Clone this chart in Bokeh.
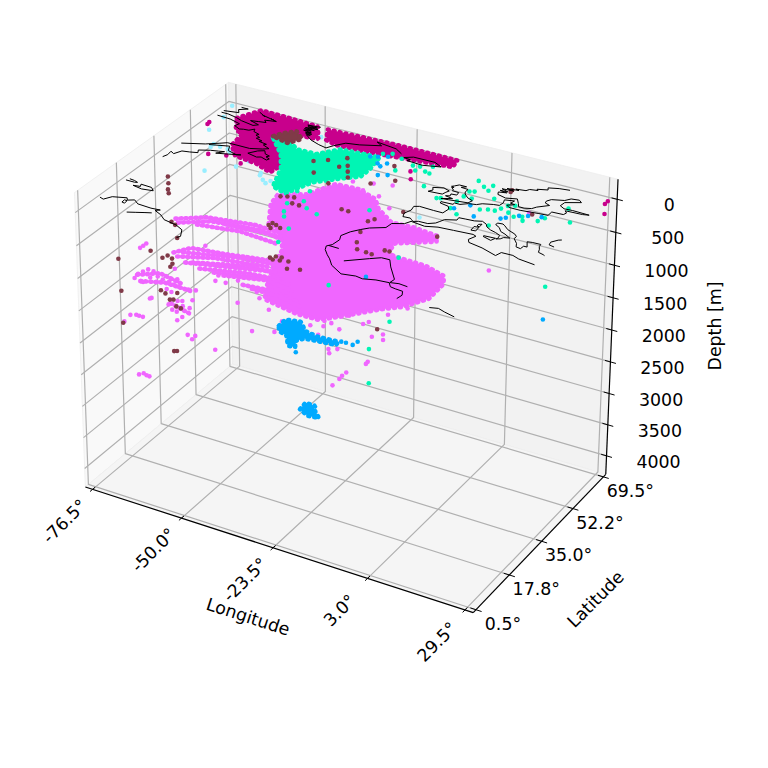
import numpy as np
from bokeh.plotting import figure
from bokeh.models import Range1d, ColumnDataSource
from bokeh.core.properties import value
from bokeh.embed import file_html
from bokeh.resources import INLINE

# ---------- axes ----------
lon_ticks = [-76.5, -50.0, -23.5, 3.0, 29.5]
lon_labels = ["-76.5°", "-50.0°", "-23.5°", "3.0°", "29.5°"]
lat_ticks = [0.5, 17.75, 35.0, 52.25, 69.5]
lat_labels = ["0.5°", "17.8°", "35.0°", "52.2°", "69.5°"]
depth_ticks = [0, 500, 1000, 1500, 2000, 2500, 3000, 3500, 4000]
depth_labels = [str(d) for d in depth_ticks]
LON0, LON1 = -78.7, 31.7
LAT0, LAT1 = -0.9, 70.9
DEP0, DEP1 = -300.0, 4300.0

# ---------- dense regions: (lon, lat, depth) ----------
pink_mass = [(-52.8,47.2,1000),
 (-57.9,56.8,1000),(-59.1,62.5,1000),(-52.7,66.2,1000),(-40.3,59.4,500),(-34,59.8,500),(-27.7,57.2,500),
 (-24.4,52.9,500),(-26.5,63.4,1000),(-20.2,63.8,1000),(-13.2,62.8,1000),(-11.8,60,1000),(-20.3,54,1000),
 (-19.3,48.5,1000),(-15.9,47.9,1000),(-8.1,47.5,1000),(-1.7,45.1,1000),(0.1,41.3,1000),(0.5,33.2,1000),
 (-3.2,26.3,1000),(-6.9,22.9,1000),(-13.5,14.9,1000),(-17.3,10.8,1000),(-23.5,10.7,1000),(-33.7,13.1,1000),
 (-36.7,19.3,1000),(-40.1,27.8,1000),(-42.9,37.3,1000),(-48.4,45.4,1000)]
pink_tracks = [
 [(-74.7,37.9,1000),(-68.2,42.5,1000),(-55.2,45.1,1000),(-46.9,44.3,1000)],
 [(-73,36.4,1000),(-66.1,41.2,1000),(-52.8,43.4,1000),(-45.3,41.5,1000)],
 [(-68.3,37.9,1000),(-57.1,40.2,1000),(-45.3,39.1,1000)],
 [(-62.1,41.6,1000),(-46.1,42.9,1000)],
 [(-65.5,22.3,1000),(-63,26.5,1000),(-54.2,28,1000),(-40.7,31.2,1000)],
 [(-63.5,23.6,1000),(-50,28.1,1000),(-39.2,29.6,1000)],
 [(-63.6,21,1000),(-55.1,24.9,1000),(-41.4,27.6,1000)],
 [(-58.7,20.2,1000),(-45.8,25.6,1000),(-36.2,25.8,1000)],
 [(-60.2,19.3,1000),(-47.3,23.4,1000),(-38,26.5,1000)],
 [(-55.5,18.4,1000),(-44,22.3,1000),(-34.9,23.5,1000)],
 [(-51.4,18.4,1000),(-40.4,22,1000),(-31.5,22.4,1000)],
 [(-48.5,18.3,1000),(-38,21.6,1000),(-30.2,20.1,1000)],
 [(-42,16.6,1000),(-34.3,17.6,1000),(-26.6,16.1,1000)],
 [(-39,16,1000),(-30.7,16.1,1000),(-24,14,1000)],
 [(-67.1,8,1000),(-62.6,11.5,1000),(-55.5,9.7,1000)],
 [(-64.6,5.7,1000),(-59.1,8,1000),(-50.7,7.6,1000)],
 [(-61.2,13.8,1500),(-54.5,11.7,1500)]]
green_mass = [(-61.8,64.7,200),(-58,65.6,200),(-53.1,62,200),(-47.5,62.1,200),(-43.6,67.4,200),(-32.8,68.4,200),
 (-31.7,61.6,200),(-31.7,56.7,200),(-35.4,53.4,200),(-40.6,47.9,200),(-43.3,39.5,200),(-47.9,41.2,200),(-51.1,50.6,200),(-55.3,57.6,200)]
magenta_mass = [(-71.8,63.5,0),(-68.6,70.5,0),(-60.2,70.2,0),(-51.3,69.5,0),(-47.7,63.4,0),(-53.4,62.6,0),
 (-57.6,57.7,0),(-52.9,54.1,0),(-48,47.5,0),(-48.8,41.3,0),(-54.2,43.8,0),(-61,44.9,0),(-64.9,49.6,0),
 (-65.7,56.2,0),(-68.6,57.7,0)]
magenta_strip = [(-48.3,69.3,0),(-29.7,70.3,0),(-11.7,70.2,0),(-11,66.4,0),(-23.5,64.5,0),(-34.8,63.1,0),
 (-42.2,62.7,0),(-45.7,63.9,0)]
brown_patch = [(-58.4,59.1,0),(-57.2,61.7,0),(-54.6,64.5,0),(-51.3,61.3,0),(-53.3,57.6,0)]
blue_mass_a = [(-48.8,45.1,2500),(-49,48.8,2500),(-45.1,49.8,2500),(-41.6,46.2,2500),(-37.7,45.3,2500),
 (-31.7,45.7,2500),(-31.4,44,2500),(-35.7,43.4,2500),(-39.9,42.8,2500),(-41.2,40.8,2500),(-39.8,37.9,2500),
 (-41.6,37.5,2500),(-44.7,41.9,2500),(-47.4,42.8,2500)]
blue_mass_b = [(-38.8,38.5,3500),(-39.2,42,3500),(-36.3,41.9,3500),(-35.7,40.3,3500),(-32.5,37.2,3500),(-35.5,36.7,3500)]

# ---------- single points: (lon, lat, depth) ----------
pink_dots = [(-73.9,21.5,1000),(-73.9,22.9,1000),(-74,20.2,1000),(-60.5,29.3,1000),(-67.1,8.5,1000),(-66.7,10.1,1000),
 (-66.2,11.7,1000),(-64.5,11.5,1000),(-62.2,9.8,1000),(-60.3,9.1,1000),(-64.6,5.7,1000),(-63.8,5.6,1000),
 (-63.5,8.4,1000),(-61,7.4,1000),(-66.7,6.3,1000),(-57.7,-0.1,1000),(-66.9,13.2,1500),(-60.7,15.3,1000),
 (-58.4,9,1000),(-57.3,11,1000),(-56.6,8.3,1000),(-56.9,5.5,1000),(-55.1,8,1000),(-55.1,4.8,1000),(-52.2,7.9,1000),
 (-50.4,8.5,1000),(-48.5,3.9,1000),(-60.3,15.6,1500),(-59.3,16.2,1500),(-59.1,11.2,1500),(-57.6,10.9,1500),
 (-57.8,14,1500),(-61.3,13,1500),(-55.8,14,1500),(-55.2,7.3,1500),(-55,9.3,1500),(-66.6,3.8,1500),(-65.4,4.6,1500),
 (-64.5,4.5,1500),(-63.4,4.5,1500),(-66.1,0.3,1500),(-57.8,16,2000),(-55.7,14.7,2000),(-55.9,16.5,2000),(-48,13.1,2000),
 (-75,19.6,3000),(-74.3,20.7,3000),(-73.1,20.2,3000),(-72.2,20.1,3000),(-48.8,15,1000),(-49.6,17.7,1000),(-46.1,15.4,1000),
 (-44.1,17.9,1000),(-38.4,8.3,1000),(-37.2,15.3,1000),(-35,12.9,1000),(-30.1,9.1,1000),(-36.6,11.9,1500),(-31.7,14.3,1500),
 (-32.8,19.8,1500),(-25.8,21.5,1500),(-21.8,18.4,1500),(-23.9,25.1,1500),(-22.8,22.7,1500),(-21.9,25,1500),(-18.7,23.3,1500),
 (-20,30.4,1500),(-15,28.5,1500),(-14.3,30.1,1500),(-10.1,24.1,1500),(-8.3,26.4,1500),(-7,24.1,1500),(-15.1,37.5,1500),
 (-12,35.6,1500),(-9.4,40.8,1500),(-12.7,26.8,2000),(-12.6,25.7,2000),(-24.1,27.4,2000),(-22.9,25.7,2000),(-22.2,28.5,2000),
 (-22.4,33.3,2500),(-22.5,31.4,2500),(-22.3,29.7,2500),(-22.2,26.1,2500),(-32,53.4,200),(-27.5,50.5,200),(-27,55,200),
 (-22.4,56.4,200),(-22.5,49.6,200),(-17.2,45.3,200),(6.4,53.1,1000),(16.5,53.8,0)]
green_dots = [(-1.9,62.9,0),(0.7,60.7,0),(2.4,62.3,0),(2.6,59.4,0),(5.8,56.3,0),(-1.2,56.7,0),(-0.1,57.3,0),(-12.2,53.7,0),
 (-6.5,49.6,0),(-5.6,50.1,0),(-1.2,53.7,0),(1,53.7,0),(-1.1,46.6,0),(1.7,44.5,0),(5.4,49.5,0),(7.1,50.5,0),(8.8,50.8,0),
 (9.6,52.5,0),(10.4,54.6,0),(11.9,55.5,0),(12.1,51.5,0),(14.2,50.2,0),(16,51.2,0),(17,49.4,0),(20.2,51.1,0),(21,53.3,0),
 (27.2,54.3,0),(23.7,60.6,0),(11.1,43.2,0),(-1.4,50.6,0),(-19.9,62.2,0),(-18.1,62.6,0),(-18.1,60.1,0),(-15.7,60.8,0),
 (-14.3,60.4,0),(-15.3,64.1,0),(-20.9,42,200),(-2.2,18.5,1000),(22,52.6,1000),(-15.9,47.9,1000),(-15.5,32.4,2000),
 (-15,31.5,2500),(-23.8,27,1000),(-48.3,42.8,200),(-41.3,41.9,200),(-38.6,43.5,200),(-37.2,38.1,200),(-34.7,35.2,200),
 (-40.2,35.1,200),(-38.7,31,200),(-37.3,28.7,200),(-31,33.7,200),(-33.1,23.8,200),(-31.8,16.6,200),
 (-36.9,68,200),(-33.4,66.9,200),(-29.5,64.2,0),(-27.4,65.4,0),(-34,64.7,200),(-37,64.9,200),(-34.2,57.2,200),(-33,59.1,200),
 (-22.4,57.7,0),(-24.1,64.1,0)]
blue_dots = [(-31.5,61.3,0),(-29.8,62.2,0),(-28.1,58.9,0),(-26.7,57.8,0),(-27.6,63.4,0),(-26,60,0),(-24.9,53.3,0),(-22.8,54.5,0),
 (-0.3,47,0),(2.4,50.3,0),(5.8,45.6,0),(11.9,47.8,0),(12.8,48.8,0),(15.1,51.3,0),(17,52.3,0),(20.1,53.4,0),(21.7,52.5,1500),
 (-18,35.2,1000),(-38.3,35.7,2500),(-31.1,46.1,2500),(-29.8,46.2,2500),(-27.8,46.1,2500),(-27.5,48.1,2500)]
cyan_dots = [(-76.6,69.1,0),(-75,62.3,0),(-74.4,54.2,0),(-63.3,34,0),(-46.7,35.7,0),(-50.1,38.7,0),(-57.7,39.8,0),(-64.6,47.2,0),
 (-68.9,46,0),(-48.7,64.1,0),(-8.5,44.7,200),(-12.8,28,1000),(-9.4,21.5,1000),(-70.7,61.6,0),(-63.2,48.2,0),(-66.9,47.3,0),
 (-69.1,47.8,0),(-63.4,46.1,0),(-56.5,43.9,0),(-50.5,39.8,0),(-48.2,36.9,0),(-46.2,37.3,0),(-49.3,63.7,0),(-47.6,64.7,0)]
magenta_dots = [(-76.7,58,0),(-76.5,56.8,0),(-67.4,42.4,0),(-63,43.9,0),(-57.6,41.9,0),(-18.9,59.1,0),(-16.8,55.4,0),
 (30.2,68.8,0),(30.2,67.2,0),(30.2,67.2,150)]
brown_dots = [(-52.5,46.7,1000),(-50.9,47.7,1000),(-49.2,46.8,1000),(-51.3,45.6,1000),(-52.2,48.1,1000),(-43.4,32,1000),
 (-42.4,33.2,1000),(-40.9,33.5,1000),(-38.4,32.5,1000),(-42.3,31.5,1000),(-40.5,31.9,1000),(-74.7,36,1000),(-73,35,1000),
 (-68.8,29.3,1000),(-70.9,20.2,1000),(-75.6,12.7,1000),(-75.2,13,1500),(-75,13.1,2000),(-65,20.8,2500),(-64.4,21.2,2500),
 (-66.4,18.6,1000),(-65.9,20.2,1000),(-64.1,19.4,1000),(-62.6,17.2,1000),(-62.2,15.6,1000),(-57.8,4.3,1000),(-56,3.5,1000),
 (-53.4,1.4,1000),(-52.7,1.9,1000),(-59.1,13.1,1500),(-57.6,12.8,1500),(-53.6,5.1,1000),(-30.7,55,1000),(-28.8,49.8,1000),
 (-26.9,46.6,1000),(-20.7,49.5,1000),(-19.4,49.6,1000),(-24.2,46.3,1000),(-22.5,46.1,1000),(-31,62.8,1000),(-31.9,61,1000),
 (-38.9,63.3,1000),(-40.9,63.4,1000),(-18.3,54.5,500),(-12.9,62.4,1000),(-3,13.9,1000),(-36.8,29.1,1000),(-33.8,30.3,1000),
 (-46.2,58.4,200),(-43.3,60.7,200),(-39.6,64,200),(-42.9,52.8,200),(-36.8,49.5,200),(-37.4,60.3,200),(-35.8,57.5,200),
 (-34.2,54.7,200),(-39,58.8,200),(-27.7,54.7,200),(-23.1,59,200),(-27.2,66,200),(-42,38.3,200),(-43.5,37.5,200),(-40.3,38.7,200),
 (-39.1,35.7,200),(-37.1,35.6,200),(-73.4,32.8,200),(-71.3,29.7,200),(-69.6,26.8,200),(-68.3,25.1,200),
 (7.5,62.5,0),(7.6,61.5,0),(17.5,53.5,0)]

# ---------- coastlines at depth 0: (lon, lat) ----------
south_america = [(-78,9),(-76.7,8.5),(-75.5,10.7),(-72,12),(-71.3,11),(-69.8,12),(-68,10.6),(-64,10.3),(-61.5,10.6),(-62.5,9.8),(-60,8.5),(-58,6.8),(-54,5.9),(-51.5,4.5),(-50,1.5),(-50.5,0.5)]
maracaibo = [(-72,10.8),(-71.9,9.5),(-71,9.3),(-71.2,10.7),(-72,10.8)]
orinoco = [(-68,5.6),(-66,6.6),(-64,7.6),(-62.5,8.3)]
cuba = [(-77.5,20),(-75,20),(-74.3,20.3),(-75.5,20.8),(-77,21)]
hispaniola = [(-74.4,18.4),(-71.5,17.8),(-68.5,18.4),(-69.8,19.7),(-73,19.9),(-72.5,18.8),(-74.4,18.4)]
us_east = [(-76.5,35.4),(-76,37),(-76.3,39),(-75,38.2),(-74,40.5),(-72,41),(-70,41.7),(-70.7,43),(-68,44.4),(-66,45),(-64.5,45.5),(-66,43.7),(-63.5,44.6),(-60,46),(-61,45.5),(-64,46.5),(-65,48.8),(-70,47)]
st_lawrence = [(-76.5,44.2),(-71,46.8),(-68,49),(-66.5,50.2),(-60,50.2),(-57,51.5),(-55.7,52.5),(-58,53.6),(-57.5,54.3),(-60,54.8),(-59.5,55.4),(-61.5,56),(-61,56.8),(-62.5,57.5),(-62,58.2),(-64,59),(-64.5,60.3),(-65.5,59),(-67,58.8),(-68,58.4),(-70,59.5),(-69.5,61),(-73,62.2),(-77,62.5)]
baffin = [(-77,64.5),(-75,64.5),(-72,63.7),(-70,62.8),(-66,61.9),(-65,62.9),(-68,64),(-66,64.5),(-64,65),(-65,66),(-62,66.8),(-64,67.5),(-62.5,67),(-67,68.3),(-66,67.8),(-68.5,69.4)]
foxe = [(-77,65.6),(-73,66.5),(-74,68),(-72,69.5),(-74,69.5)]
newfoundland = [(-59,47.7),(-56,46.9),(-55,47.5),(-53,46.7),(-52.7,47.6),(-54,48.2),(-53.5,49),(-55,49.5),(-56,51),(-57.5,50),(-59,47.7)]
greenland = [(-50.5,69.5),(-54,69),(-51,68.7),(-53.5,68.2),(-50.5,68),(-53.8,67.5),(-51,67.1),(-53.7,66.8),(-51.5,66.4),(-53.5,66),(-51,65.6),(-52.5,65.2),(-50.5,64.9),(-52,64.5),(-50.5,64.2),(-51.5,64),(-49,62),(-46,60.7),(-43.5,60),(-42.5,62),(-40.5,64.8),(-37,65.7),(-32,68),(-34,69.3),(-28,68.3),(-25.5,66.5)]
iceland = [(-24,65),(-22,66.4),(-16,66.5),(-13.5,65),(-18,63.5),(-22.5,63.9),(-22,64.7),(-24,65)]
europe_atlantic_med = [(8.5,53.8),(7,53.5),(4.5,52.5),(3.5,51.4),(1.6,50.9),(0,49.5),(-1.5,49.5),(-1.5,48.7),(-4.7,48.5),(-4.5,47.8),(-2,47.2),(-1.2,46),(-1.5,43.5),(-4,43.5),(-8,43.7),(-9.2,43),(-8.8,41),(-9.5,38.7),(-8.9,37),(-7,37.2),(-6.3,36.6),(-5.6,36),(-4.5,36.7),(-2,36.8),(-0.5,38),(0,39.2),(0.5,40.6),(3.2,41.9),(3,43.2),(4.8,43.4),(7,43.6),(8.8,44.4),(10.3,43.5),(11,42.4),(12.5,41.4),(14.2,40.8),(15.7,40),(16,38.3),(15.7,38),(16.6,38.5),(17,39.5),(18.4,40),(16.5,41.2),(15,41.9),(13.8,43.5),(12.3,44.5),(12.4,45.4),(13.7,45.6),(14.5,45),(16,43.6),(18.5,42.4),(19.4,41.5),(19.4,40.3),(21,38.4),(21.7,36.8),(23,36.5),(23.1,38),(24,38),(22.8,40.4),(24,40.7),(26.2,40.8),(26.4,39.6),(27,38.5),(27.5,37),(29,36.5),(29.5,36.2)]
sicily = [(12.5,38),(15.5,38.2),(15,36.7),(12.5,37.6),(12.5,38)]
sardinia = [(8.3,41),(9.5,41.2),(9.7,39.2),(8.5,39),(8.3,41)]
corsica = [(8.7,42.5),(9.4,43),(9.5,41.5),(8.8,41.6),(8.7,42.5)]
africa_north = [(-6,35.8),(-2,35.2),(1,36.4),(5,36.8),(10,37.3),(11,36.8),(10.2,34.5),(11,33.2),(15,32.3),(19.5,30.5),(20,32.5),(23,32.6),(25,31.7),(29.5,31)]
africa_west = [(-6,35.8),(-6.8,34),(-9.5,32.5),(-9.7,30),(-13,27.8),(-14.5,26),(-16,23.8),(-17,21),(-16.2,19),(-16.5,16),(-17.4,14.7),(-16.7,13),(-15,11),(-13.5,9.5),(-11.5,7),(-7.5,4.4),(-4,5.2),(-2,4.8),(1,5.9),(4.3,6.3),(5.5,4.7),(7,4.4),(9,4.2),(9.8,2.5),(9.5,0.5)]
senegal = [(-17,15.2),(-14.2,15.1)]
niger = [(-10.1,10.3),(-5.4,14.3),(-3.2,16.1),(-1,16.2),(0.9,13.2),(4.6,8.3),(4.4,6.4)]
benue = [(4.4,6.4),(6.5,7),(8.9,6.7)]
congo = [(18,0.5),(20,1.2),(22,0.4),(25,-0.5)]
uk = [(-5.5,50),(-3.5,50.3),(1.3,51.2),(1.7,52.7),(0,53.5),(-1.5,55),(-2,56),(-2,57.5),(-4,57.7),(-3,58.6),(-5,58.6),(-5.8,57.5),(-6.3,57),(-5.5,56.8),(-6,56.5),(-5,55.5),(-5,55),(-3.2,54.9),(-3,53.5),(-4.5,53.3),(-4.2,52.3),(-5.2,51.8),(-3,51.3),(-5.5,50)]
ireland = [(-10,51.8),(-6.3,52.2),(-6,53.5),(-5.6,54.5),(-7.5,55.3),(-10,54.2),(-9.3,53),(-10,51.8)]
scandinavia = [(8.5,53.8),(8.7,55.5),(8.2,57),(10.6,57.7),(10.3,56.2),(11.5,56),(10,54.8),(11,54),(14,54),(18.5,54.7),(21,55),(21,57),(24,57.2),(24.3,58.3),(23.5,59.2),(28,59.5),(29.5,60),(25,60.2),(22.8,60),(21.3,61),(21.5,63),(25,65),(24,65.9),(22,65.5),(21,64),(18,62.8),(17.3,61.5),(17.5,60.5),(19,59.8),(16.7,57.5),(16,56.2),(14.3,55.5),(12.8,55.5),(12,57),(10.7,59),(8,58),(5.5,58.8),(5,60),(7,60.6),(5,61),(7,61.2),(5,62),(8,62.3),(6,62.7),(9,63.2),(8,63.5),(10.5,64),(11,65),(13,65.5),(12.5,66),(15,67),(14.5,68),(17,69),(19.7,69.5)]
black_sea = [(29.5,41.2),(28,41.6),(27.7,43),(28.8,44.8),(29.5,45.3)]
coasts = [south_america, maracaibo, orinoco, cuba, hispaniola, us_east, st_lawrence, baffin, foxe, newfoundland,
          greenland, iceland, europe_atlantic_med, sicily, sardinia, corsica, africa_north, africa_west, senegal,
          niger, benue, congo, uk, ireland, scandinavia, black_sea]

# ---------- colours ----------
PINK, GREEN, MAGENTA, BLUE, CYAN, BROWN = "#f066ff", "#00f5b4", "#c8008c", "#00aaff", "#99eeff", "#803a48"
GRID = "#b0b0b0"
FONT = value("DejaVu Sans")

# ---------- camera fitted to the drawn box ----------
box_index = [(0,0,0),(1,0,0),(1,1,0),(0,1,0),(0,0,1),(0,1,1),(1,1,1),(1,0,1)]
box_view = [(85,487),(473,612),(605,474),(232,363),(74,192),(228,82),(618,179),(479,303)]
rows, rhs = [], []
for (X, Y, Z), (px, py) in zip(box_index, box_view):
    rows.append([X, Y, Z, 1, 0, 0, 0, 0, -px*X, -px*Y, -px*Z]); rhs.append(px)
    rows.append([0, 0, 0, 0, X, Y, Z, 1, -py*X, -py*Y, -py*Z]); rhs.append(py)
sol = np.linalg.lstsq(np.array(rows, float), np.array(rhs, float), rcond=None)[0]
CAM = np.append(sol, 1.0).reshape(3, 4)

def project(lon, lat, dep):
    lon, lat, dep = (np.asarray(a, float) for a in np.broadcast_arrays(lon, lat, dep))
    X = (lon - LON0)/(LON1 - LON0)
    Y = (lat - LAT0)/(LAT1 - LAT0)
    Z = (DEP1 - dep)/(DEP1 - DEP0)
    H = CAM @ np.vstack([X, Y, Z, np.ones_like(X)])
    return H[0]/H[2], H[1]/H[2]

def proj3(triples):
    a = np.array(triples, float)
    return project(a[:, 0], a[:, 1], a[:, 2])

# ---------- figure ----------
p = figure(width=752, height=752, x_range=Range1d(0, 752), y_range=Range1d(752, 0),
           output_backend="svg", toolbar_location=None, min_border=0)
p.axis.visible = False
p.grid.visible = False
p.outline_line_color = None

def pane(lons, lats, deps, col):
    x, y = project(lons, lats, deps)
    p.patch(x, y, fill_color=col, line_color="#eeeeee", line_width=0.8)

pane([LON0, LON0, LON0, LON0], [LAT0, LAT1, LAT1, LAT0], [DEP1, DEP1, DEP0, DEP0], "#f9f9f9")
pane([LON0, LON1, LON1, LON0], [LAT1, LAT1, LAT1, LAT1], [DEP1, DEP1, DEP0, DEP0], "#f2f2f2")
pane([LON0, LON1, LON1, LON0], [LAT0, LAT0, LAT1, LAT1], [DEP1, DEP1, DEP1, DEP1], "#f5f5f5")

# grid lines
gx, gy = [], []
for t in lon_ticks:
    x, y = project([t, t, t], [LAT0, LAT1, LAT1], [DEP1, DEP1, DEP0]); gx.append(x); gy.append(y)
for t in lat_ticks:
    x, y = project([LON1, LON0, LON0], [t, t, t], [DEP1, DEP1, DEP0]); gx.append(x); gy.append(y)
for t in depth_ticks:
    x, y = project([LON1, LON0, LON0], [LAT1, LAT1, LAT0], [t, t, t]); gx.append(x); gy.append(y)
p.multi_line(gx, gy, line_color=GRID, line_width=1.2)

# dense regions and dots
DOT = 4.6
def beads(x, y, col, dash="1 5"):
    p.line(x, y, line_color=col, line_width=DOT, line_dash=dash, line_cap="round")
def mass(tr, col):
    x, y = proj3(tr)
    p.patch(x, y, fill_color=col, line_color=None)
    beads(np.append(x, x[0]), np.append(y, y[0]), col)
def dots(tr, col):
    x, y = proj3(tr)
    p.scatter(x, y, size=DOT, fill_color=col, line_color=None)

dots(cyan_dots, CYAN)
mass(magenta_mass, MAGENTA)
mass(magenta_strip, MAGENTA)
dots(magenta_dots, MAGENTA)
mass(pink_mass, PINK)
for tr in pink_tracks:
    beads(*proj3(tr), PINK, "1 4")
dots(pink_dots, PINK)
mass(green_mass, GREEN)
dots(green_dots, GREEN)
mass(blue_mass_a, BLUE)
mass(blue_mass_b, BLUE)
dots(blue_dots, BLUE)
mass(brown_patch, BROWN)
dots(brown_dots, BROWN)

# coast at depth 0
cx, cy = [], []
for c in coasts:
    a = np.array(c, float)
    x, y = project(a[:, 0], a[:, 1], 0.0)
    cx.append(x); cy.append(y)
p.multi_line(cx, cy, line_color="black", line_width=1.0)

# axis lines
ax_x, ax_y = [], []
x, y = project([LON0, LON1], [LAT0, LAT0], [DEP1, DEP1]); ax_x.append(x); ax_y.append(y)
x, y = project([LON1, LON1], [LAT0, LAT1], [DEP1, DEP1]); ax_x.append(x); ax_y.append(y)
x, y = project([LON1, LON1], [LAT1, LAT1], [DEP1, DEP0]); ax_x.append(x); ax_y.append(y)
p.multi_line(ax_x, ax_y, line_color="black", line_width=1.2)

# ticks
tx, ty = [], []
for t in lon_ticks:
    x, y = project([t, t], [LAT0 - 1.2, LAT0 + 1.2], [DEP1, DEP1]); tx.append(x); ty.append(y)
for t in lat_ticks:
    x, y = project([LON1 - 1.5, LON1 + 1.5], [t, t], [DEP1, DEP1]); tx.append(x); ty.append(y)
for t in depth_ticks:
    x, y = project([LON1 - 1.5, LON1 + 1.5], [LAT1, LAT1], [t, t]); tx.append(x); ty.append(y)
p.multi_line(tx, ty, line_color="black", line_width=1.0)

# tick labels
def labels(xs, ys, txt, angle, dx, dy):
    src = ColumnDataSource(dict(x=xs, y=ys, t=txt))
    p.text("x", "y", text="t", source=src, angle=angle, angle_units="deg", x_offset=dx, y_offset=dy,
           text_font=FONT, text_font_size="17.4px", text_align="center", text_baseline="middle", text_color="black")

x, y = project(lon_ticks, LAT0, DEP1)
labels(list(x), list(y), lon_labels, 45, -28, 32)
x, y = project(LON1, lat_ticks, DEP1)
labels(list(x), list(y), lat_labels, 0, 27, 14)
x, y = project(LON1, LAT1, depth_ticks)
labels(list(x), list(y), depth_labels, 0, 52, 5.5)

# axis titles
x, y = project([-23.5], [LAT0], [DEP1])
labels(list(x), list(y), ["Longitude"], -18, -25, 69)
x, y = project([LON1], [35.0], [DEP1])
labels(list(x), list(y), ["Latitude"], 45, 54, 58)
x, y = project([LON1], [LAT1], [2000])
labels(list(x), list(y), ["Depth [m]"], 90, 103, -4)

open("out.html", "w").write(file_html(p, INLINE))
